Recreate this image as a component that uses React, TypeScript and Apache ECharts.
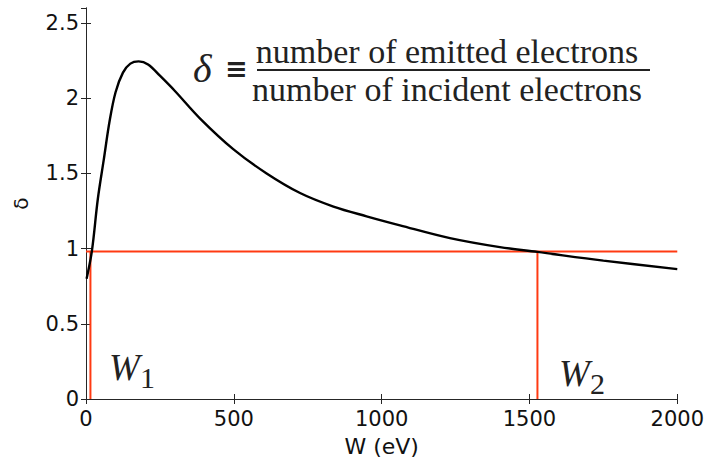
import React, { useEffect, useRef } from "react";
import * as echarts from "echarts";

const energyW = [2, 20, 40, 60, 80, 100, 125, 150, 178, 210, 250, 300, 386, 499, 611, 724, 837, 949, 1062, 1231, 1400, 1527, 1750, 2000];
const yieldDelta = [0.8, 0.985, 1.33, 1.59, 1.85, 2.04, 2.17, 2.23, 2.245, 2.225, 2.15, 2.05, 1.865, 1.66, 1.5, 1.37, 1.28, 1.215, 1.155, 1.07, 1.01, 0.978, 0.92, 0.864];

const unityLevel = 0.98;
const crossW1 = 15;
const crossW2 = 1527;
const xRange = [0, 2000];
const yRange = [0, 2.6];

const RED = "#ff3a12";
const AXIS = "#262626";
const SANS = "DejaVu Sans, Liberation Sans, Arial, sans-serif";
const SERIF = "Liberation Serif, DejaVu Serif, serif";

export default function App() {
  const ref = useRef<HTMLDivElement>(null);
  useEffect(() => {
    if (!ref.current) return;
    const chart = echarts.init(ref.current, undefined, { renderer: "svg" });
    const baseAxisLine = { show: true, lineStyle: { color: AXIS, width: 1 } };
    const tick = { show: true, inside: true, length: 5, lineStyle: { color: AXIS } };
    const curve = energyW.map((w, i) => [w, yieldDelta[i]]);
    const redLine = (pts: number[][]) => ({
      type: "line",
      data: pts,
      symbol: "none",
      lineStyle: { color: RED, width: 2 },
      z: 2,
    });
    chart.setOption({
      animation: false,
      backgroundColor: "#ffffff",
      grid: { left: 86, right: 29, top: 8, bottom: 59, containLabel: false },
      xAxis: [
        {
          type: "value",
          min: xRange[0],
          max: xRange[1],
          interval: 500,
          position: "bottom",
          name: "W (eV)",
          nameLocation: "middle",
          nameGap: 36,
          nameTextStyle: { fontFamily: SANS, fontSize: 22, color: "#111" },
          axisLine: baseAxisLine,
          axisTick: tick,
          axisLabel: { fontFamily: SANS, fontSize: 21, color: "#111", margin: 9, formatter: (v: number) => String(v) },
          splitLine: { show: false },
        },
        {
          type: "value",
          min: xRange[0],
          max: xRange[1],
          interval: 500,
          position: "top",
          axisLine: baseAxisLine,
          axisTick: tick,
          axisLabel: { show: false },
          splitLine: { show: false },
        },
      ],
      yAxis: [
        {
          type: "value",
          min: yRange[0],
          max: yRange[1],
          interval: 0.5,
          position: "left",
          name: "δ",
          nameLocation: "middle",
          nameGap: 55,
          nameRotate: 90,
          nameTextStyle: { fontFamily: SANS, fontSize: 20, color: "#111" },
          axisLine: baseAxisLine,
          axisTick: tick,
          axisLabel: { fontFamily: SANS, fontSize: 21, color: "#111", margin: 7, showMaxLabel: false, formatter: (v: number) => String(v) },
          splitLine: { show: false },
        },
        {
          type: "value",
          min: yRange[0],
          max: yRange[1],
          interval: 0.5,
          position: "right",
          axisLine: baseAxisLine,
          axisTick: tick,
          axisLabel: { show: false },
          splitLine: { show: false },
        },
      ],
      series: [
        redLine([[xRange[0], unityLevel], [xRange[1], unityLevel]]),
        redLine([[crossW1, 0], [crossW1, unityLevel]]),
        redLine([[crossW2, 0], [crossW2, unityLevel]]),
        {
          type: "line",
          data: curve,
          symbol: "none",
          smooth: 0.35,
          lineStyle: { color: "#000", width: 2.4 },
          z: 3,
        },
      ],
      graphic: [
        {
          type: "text",
          x: 193,
          y: 68,
          style: { text: "δ", fontFamily: SERIF, fontStyle: "italic", fontSize: 40, fill: "#222", align: "left", verticalAlign: "middle" },
        },
        {
          type: "text",
          x: 225,
          y: 68,
          style: { text: "≡", fontFamily: SANS, fontSize: 27, fontWeight: "bold", fill: "#222", align: "left", verticalAlign: "middle" },
        },
        {
          type: "text",
          x: 447,
          y: 51,
          style: { text: "number of emitted electrons", fontFamily: SERIF, fontSize: 34, fill: "#222", align: "center", verticalAlign: "middle" },
        },
        {
          type: "line",
          shape: { x1: 257, y1: 70, x2: 650, y2: 70 },
          style: { stroke: "#222", lineWidth: 2 },
        },
        {
          type: "text",
          x: 447,
          y: 89,
          style: { text: "number of incident electrons", fontFamily: SERIF, fontSize: 34, fill: "#222", align: "center", verticalAlign: "middle" },
        },
        {
          type: "text",
          x: 109,
          y: 367,
          style: { text: "W", fontFamily: SERIF, fontStyle: "italic", fontSize: 37, fill: "#222", align: "left", verticalAlign: "middle" },
        },
        {
          type: "text",
          x: 140,
          y: 377,
          style: { text: "1", fontFamily: SERIF, fontSize: 30, fill: "#222", align: "left", verticalAlign: "middle" },
        },
        {
          type: "text",
          x: 559,
          y: 373,
          style: { text: "W", fontFamily: SERIF, fontStyle: "italic", fontSize: 37, fill: "#222", align: "left", verticalAlign: "middle" },
        },
        {
          type: "text",
          x: 590,
          y: 383,
          style: { text: "2", fontFamily: SERIF, fontSize: 30, fill: "#222", align: "left", verticalAlign: "middle" },
        },
      ],
    });
    return () => chart.dispose();
  }, []);
  return (
    <div
      ref={ref}
      style={{ position: "fixed", left: 0, top: 0, width: 707, height: 462, background: "#fff" }}
    />
  );
}
